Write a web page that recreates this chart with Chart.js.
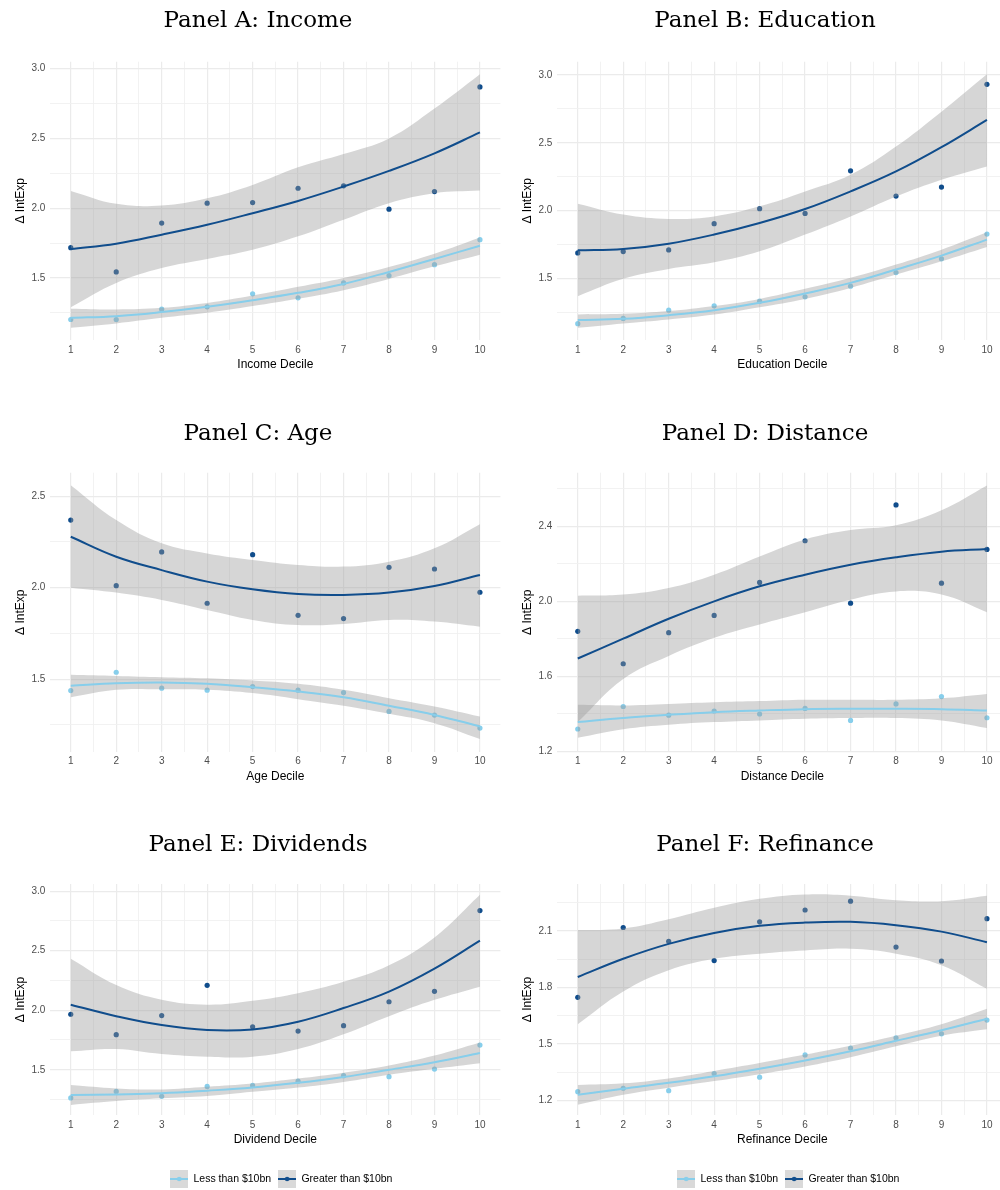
<!DOCTYPE html>
<html>
<head>
<meta charset="utf-8">
<script src="https://cdn.jsdelivr.net/npm/chart.js@4.4.1/dist/chart.umd.min.js"></script>
<style>
  html, body { margin: 0; padding: 0; background: #fff; overflow: hidden; }
  #page { position: relative; width: 1000px; height: 1190px; overflow: hidden; background: #fff; }
  #page canvas { position: absolute; }
</style>
</head>
<body>
<div id="page">
  <canvas id="cA"></canvas><canvas id="cB"></canvas>
  <canvas id="cC"></canvas><canvas id="cD"></canvas>
  <canvas id="cE"></canvas><canvas id="cF"></canvas>
</div>
<script>
// deciles on the x axis
const deciles = [1, 2, 3, 4, 5, 6, 7, 8, 9, 10];

// Panel A: Income  (small = Less than $10bn, large = Greater than $10bn)
const incomeSmall    = [1.202, 1.202, 1.276, 1.293, 1.386, 1.357, 1.464, 1.517, 1.595, 1.774];
const incomeSmallFit = [1.214, 1.226, 1.255, 1.293, 1.340, 1.393, 1.457, 1.543, 1.636, 1.731];
const incomeSmallHi  = [1.279, 1.274, 1.286, 1.321, 1.374, 1.436, 1.500, 1.579, 1.674, 1.790];
const incomeSmallLo  = [1.143, 1.174, 1.214, 1.250, 1.298, 1.350, 1.412, 1.493, 1.583, 1.667];
const incomeLarge    = [1.717, 1.543, 1.893, 2.036, 2.040, 2.143, 2.160, 1.993, 2.119, 2.869];
const incomeLargeFit = [1.707, 1.745, 1.810, 1.881, 1.964, 2.052, 2.155, 2.267, 2.393, 2.543];
const incomeLargeHi  = [2.124, 2.031, 2.019, 2.071, 2.167, 2.293, 2.388, 2.500, 2.714, 2.960];
const incomeLargeLo  = [1.290, 1.464, 1.571, 1.636, 1.702, 1.798, 1.917, 2.036, 2.107, 2.126];

// Panel B: Education
const eduSmall    = [1.167, 1.206, 1.267, 1.299, 1.333, 1.365, 1.444, 1.544, 1.645, 1.828];
const eduSmallFit = [1.194, 1.203, 1.230, 1.267, 1.321, 1.390, 1.468, 1.566, 1.669, 1.787];
const eduSmallHi  = [1.235, 1.240, 1.260, 1.297, 1.350, 1.424, 1.505, 1.603, 1.713, 1.841];
const eduSmallLo  = [1.137, 1.169, 1.199, 1.235, 1.289, 1.350, 1.431, 1.529, 1.627, 1.733];
const eduLarge    = [1.689, 1.699, 1.711, 1.904, 2.015, 1.980, 2.294, 2.108, 2.174, 2.931];
const eduLargeFit = [1.708, 1.718, 1.757, 1.824, 1.909, 2.012, 2.142, 2.289, 2.468, 2.669];
const eduLargeHi  = [2.051, 1.971, 1.939, 1.958, 2.032, 2.142, 2.265, 2.473, 2.730, 3.005];
const eduLargeLo  = [1.370, 1.498, 1.571, 1.620, 1.701, 1.824, 1.958, 2.105, 2.228, 2.326];

// Panel C: Age
const ageSmall    = [1.438, 1.538, 1.451, 1.440, 1.460, 1.440, 1.427, 1.324, 1.304, 1.233];
const ageSmallFit = [1.464, 1.478, 1.482, 1.475, 1.456, 1.433, 1.402, 1.355, 1.305, 1.242];
const ageSmallHi  = [1.524, 1.518, 1.511, 1.505, 1.493, 1.475, 1.442, 1.396, 1.351, 1.296];
const ageSmallLo  = [1.402, 1.442, 1.445, 1.442, 1.424, 1.391, 1.355, 1.311, 1.260, 1.173];
const ageLarge    = [2.369, 2.011, 2.195, 1.915, 2.180, 1.849, 1.831, 2.111, 2.102, 1.975];
const ageLargeFit = [2.278, 2.169, 2.096, 2.033, 1.991, 1.965, 1.960, 1.973, 2.009, 2.069];
const ageLargeHi  = [2.560, 2.369, 2.242, 2.187, 2.151, 2.124, 2.115, 2.142, 2.215, 2.347];
const ageLargeLo  = [2.000, 1.973, 1.933, 1.878, 1.824, 1.796, 1.802, 1.824, 1.815, 1.787];

// Panel D: Distance
const distSmall    = [1.318, 1.438, 1.392, 1.414, 1.398, 1.428, 1.364, 1.452, 1.491, 1.378];
const distSmallFit = [1.355, 1.377, 1.394, 1.408, 1.417, 1.424, 1.426, 1.426, 1.424, 1.417];
const distSmallHi  = [1.447, 1.444, 1.452, 1.461, 1.467, 1.474, 1.474, 1.474, 1.482, 1.505];
const distSmallLo  = [1.271, 1.317, 1.341, 1.355, 1.364, 1.373, 1.377, 1.377, 1.364, 1.324];
const distLarge    = [1.839, 1.666, 1.832, 1.924, 2.100, 2.322, 1.989, 2.513, 2.096, 2.276];
const distLargeFit = [1.694, 1.800, 1.906, 1.999, 2.079, 2.141, 2.194, 2.234, 2.264, 2.278];
const distLargeHi  = [2.029, 2.035, 2.070, 2.141, 2.238, 2.329, 2.379, 2.405, 2.485, 2.617];
const distLargeLo  = [1.355, 1.585, 1.708, 1.805, 1.876, 1.941, 2.008, 2.052, 2.035, 1.941];

// Panel E: Dividends
const divSmall    = [1.263, 1.318, 1.277, 1.360, 1.368, 1.404, 1.450, 1.442, 1.506, 1.707];
const divSmallFit = [1.288, 1.293, 1.302, 1.324, 1.351, 1.390, 1.439, 1.500, 1.563, 1.641];
const divSmallHi  = [1.371, 1.343, 1.335, 1.357, 1.384, 1.426, 1.475, 1.536, 1.619, 1.729];
const divSmallLo  = [1.205, 1.238, 1.260, 1.280, 1.315, 1.351, 1.398, 1.459, 1.508, 1.555];
const divLarge    = [1.966, 1.795, 1.955, 2.209, 1.861, 1.825, 1.870, 2.071, 2.159, 2.837];
const divLargeFit = [2.046, 1.950, 1.875, 1.834, 1.839, 1.903, 2.018, 2.156, 2.349, 2.584];
const divLargeHi  = [2.432, 2.211, 2.087, 2.046, 2.079, 2.143, 2.239, 2.377, 2.611, 2.970];
const divLargeLo  = [1.655, 1.674, 1.632, 1.610, 1.610, 1.674, 1.798, 1.950, 2.087, 2.198];

// Panel F: Refinance
const refiSmall    = [1.247, 1.265, 1.252, 1.343, 1.324, 1.442, 1.479, 1.533, 1.554, 1.627];
const refiSmallFit = [1.231, 1.263, 1.294, 1.329, 1.369, 1.413, 1.462, 1.517, 1.573, 1.634];
const refiSmallHi  = [1.282, 1.291, 1.317, 1.357, 1.399, 1.444, 1.491, 1.544, 1.605, 1.687];
const refiSmallLo  = [1.177, 1.230, 1.268, 1.303, 1.340, 1.381, 1.430, 1.488, 1.544, 1.578];
const refiLarge    = [1.748, 2.119, 2.046, 1.943, 2.149, 2.212, 2.259, 2.015, 1.941, 2.166];
const refiLargeFit = [1.856, 1.953, 2.032, 2.090, 2.128, 2.145, 2.149, 2.131, 2.097, 2.041];
const refiLargeHi  = [2.105, 2.114, 2.163, 2.224, 2.271, 2.294, 2.288, 2.264, 2.259, 2.288];
const refiLargeLo  = [1.605, 1.779, 1.892, 1.953, 1.980, 1.997, 2.006, 1.980, 1.919, 1.793];

// y tick labels per panel
const yTicksA = [1.5, 2.0, 2.5, 3.0];
const yTicksB = [1.5, 2.0, 2.5, 3.0];
const yTicksC = [1.5, 2.0, 2.5];
const yTicksD = [1.2, 1.6, 2.0, 2.4];
const yTicksE = [1.5, 2.0, 2.5, 3.0];
const yTicksF = [1.2, 1.5, 1.8, 2.1];

const seriesNames = ["Less than $10bn", "Greater than $10bn"];

const DARK = "#104d8c";
const LIGHT = "#87ceeb";
const BAND = "rgba(153,153,153,0.4)";
const SANS = "'Liberation Sans', Arial, sans-serif";
const POINT_R = 2.6;

Chart.defaults.font.family = SANS;

// geometry of the three rows (canvas-relative)
const rows = [
  { top: 0,   height: 410, plotTop: 61.7, plotBottom: 340,   titleY: 20,   axisTitleY: 364.5 },
  { top: 410, height: 410, plotTop: 62.7, plotBottom: 341.7, titleY: 22.3, axisTitleY: 366.7 },
  { top: 820, height: 378, plotTop: 64,   plotBottom: 298,   titleY: 23.7, axisTitleY: 322.7, legendY: 362 }
];
const colLeft = [0, 507];
const CANVAS_W = 500 + Math.ceil(POINT_R);  // the library keeps a point-radius margin on the right
const PAD_LEFT = 13;
const PLOT_LEFT = 50.3;
const LEGEND_SHIFT = 6;

const panels = [
  { id: "cA", row: 0, col: 0, title: "Panel A: Income",    xTitle: "Income Decile",    yMin: 1.055, yMax: 3.05,  yTicks: yTicksA,
    small: [incomeSmall, incomeSmallFit, incomeSmallHi, incomeSmallLo], large: [incomeLarge, incomeLargeFit, incomeLargeHi, incomeLargeLo] },
  { id: "cB", row: 0, col: 1, title: "Panel B: Education", xTitle: "Education Decile", yMin: 1.047, yMax: 3.098, yTicks: yTicksB,
    small: [eduSmall, eduSmallFit, eduSmallHi, eduSmallLo], large: [eduLarge, eduLargeFit, eduLargeHi, eduLargeLo] },
  { id: "cC", row: 1, col: 0, title: "Panel C: Age",       xTitle: "Age Decile",       yMin: 1.104, yMax: 2.628, yTicks: yTicksC,
    small: [ageSmall, ageSmallFit, ageSmallHi, ageSmallLo], large: [ageLarge, ageLargeFit, ageLargeHi, ageLargeLo] },
  { id: "cD", row: 1, col: 1, title: "Panel D: Distance",  xTitle: "Distance Decile",  yMin: 1.197, yMax: 2.685, yTicks: yTicksD,
    small: [distSmall, distSmallFit, distSmallHi, distSmallLo], large: [distLarge, distLargeFit, distLargeHi, distLargeLo] },
  { id: "cE", row: 2, col: 0, title: "Panel E: Dividends", xTitle: "Dividend Decile",  yMin: 1.12,  yMax: 3.06,  yTicks: yTicksE,
    small: [divSmall, divSmallFit, divSmallHi, divSmallLo], large: [divLarge, divLargeFit, divLargeHi, divLargeLo] },
  { id: "cF", row: 2, col: 1, title: "Panel F: Refinance", xTitle: "Refinance Decile", yMin: 1.123, yMax: 2.35,  yTicks: yTicksF,
    small: [refiSmall, refiSmallFit, refiSmallHi, refiSmallLo], large: [refiLarge, refiLargeFit, refiLargeHi, refiLargeLo] }
];

const xy = vals => deciles.map((d, i) => ({ x: d, y: vals[i] }));
const near = (a, b) => Math.abs(a - b) < 1e-6;

// major ticks plus minor lines halfway between them
function gridValues(major, min, max) {
  const half = (major[1] - major[0]) / 2;
  let v = major[0];
  while (v - half >= min) v -= half;
  const out = [];
  for (; v <= max + 1e-9; v += half) out.push(Math.round(v * 1000) / 1000);
  return out;
}

function keyImage(color) {
  const c = document.createElement("canvas");
  c.width = 18; c.height = 18;
  const g = c.getContext("2d");
  g.fillStyle = "#d9d9d9";
  g.fillRect(0, 0, 18, 18);
  g.strokeStyle = color; g.lineWidth = 2;
  g.beginPath(); g.moveTo(0, 9); g.lineTo(18, 9); g.stroke();
  g.fillStyle = color;
  g.beginPath(); g.arc(9, 9, 2.3, 0, Math.PI * 2); g.fill();
  return c;
}
const keys = [keyImage(LIGHT), keyImage(DARK)];

// nudge the legend to sit a little right of the plot centre, as in the original
const legendShift = {
  id: "legendShift",
  afterLayout(chart) {
    if (chart.legend && chart.options.plugins.legend.display) {
      chart.legend.left += LEGEND_SHIFT;
      chart.legend.right += LEGEND_SHIFT;
    }
  }
};

function makeDatasets(p) {
  const curve = { pointRadius: 0, pointHoverRadius: 0, pointBorderWidth: 0, tension: 0.4, fill: false };
  const band = { ...curve, borderWidth: 0, borderColor: "transparent", backgroundColor: BAND, order: 2 };
  const pts = { showLine: false, pointRadius: POINT_R, pointHoverRadius: 0, pointBorderWidth: 0, order: 3 };
  return [
    { ...curve, data: xy(p.large[1]), borderColor: DARK, borderWidth: 2, order: 1 },
    { ...curve, data: xy(p.small[1]), borderColor: LIGHT, borderWidth: 2, order: 1 },
    { ...band, data: xy(p.large[2]), fill: "+1" },
    { ...band, data: xy(p.large[3]) },
    { ...band, data: xy(p.small[2]), fill: "+1" },
    { ...band, data: xy(p.small[3]) },
    { ...pts, data: xy(p.large[0]), pointBackgroundColor: DARK, backgroundColor: DARK },
    { ...pts, data: xy(p.small[0]), pointBackgroundColor: LIGHT, backgroundColor: LIGHT }
  ];
}

panels.forEach(p => {
  const r = rows[p.row];
  const canvas = document.getElementById(p.id);
  canvas.width = CANVAS_W; canvas.height = r.height;
  canvas.style.left = colLeft[p.col] + "px";
  canvas.style.top = r.top + "px";

  const hasLegend = r.legendY !== undefined;
  const legendFont = 10.5, legendPad = 7;
  const legendH = legendFont + 2 * legendPad;
  const axisBottom = hasLegend ? r.legendY - legendH / 2 : r.axisTitleY + 7.2;
  const xAxisH = axisBottom - r.plotBottom;
  const xTitlePadBottom = axisBottom - r.axisTitleY - 7.2;
  const padBottom = r.height - axisBottom - (hasLegend ? legendH : 0);
  const titleLine = 23 * 1.2;
  const titlePadTop = r.titleY + 1.5 - titleLine / 2;
  const titlePadBottom = r.plotTop - titlePadTop - titleLine;

  const xGrid = gridValues(deciles, 0.55, 10.45);
  const yGrid = gridValues(p.yTicks, p.yMin, p.yMax);

  new Chart(canvas, {
    type: "line",
    data: { datasets: makeDatasets(p) },
    plugins: [legendShift],
    options: {
      responsive: false,
      animation: false,
      events: [],
      layout: { padding: { left: PAD_LEFT, right: 0, top: 0, bottom: padBottom } },
      plugins: {
        tooltip: { enabled: false },
        title: {
          display: true, text: p.title, color: "#000",
          font: { family: "'DejaVu Serif', serif", size: 23, weight: "normal" },
          padding: { top: titlePadTop, bottom: titlePadBottom }
        },
        legend: {
          display: hasLegend, position: "bottom", fullSize: false,
          labels: {
            usePointStyle: true, pointStyleWidth: 18, padding: legendPad,
            color: "#1a1a1a", font: { size: legendFont },
            generateLabels: () => seriesNames.map((name, i) => ({
              text: name, pointStyle: keys[i], fillStyle: "transparent",
              strokeStyle: "transparent", lineWidth: 0, hidden: false, datasetIndex: i
            }))
          },
          onClick: null
        }
      },
      scales: {
        x: {
          type: "linear", min: 0.55, max: 10.45,
          afterBuildTicks: s => { s.ticks = xGrid.map(v => ({ value: v })); },
          afterFit: s => { s.height = xAxisH; },
          border: { display: false },
          grid: {
            drawTicks: false,
            color: c => Number.isInteger(c.tick.value) ? "#ebebeb" : "#f1f1f1",
            lineWidth: c => Number.isInteger(c.tick.value) ? 1.2 : 0.9
          },
          ticks: {
            autoSkip: false, maxRotation: 0, padding: 4, color: "#4d4d4d", font: { size: 10 },
            callback: v => Number.isInteger(v) ? String(v) : ""
          },
          title: {
            display: true, text: p.xTitle, color: "#000", font: { size: 12 },
            padding: { top: 0, bottom: xTitlePadBottom }
          }
        },
        y: {
          type: "linear", min: p.yMin, max: p.yMax,
          afterBuildTicks: s => { s.ticks = yGrid.map(v => ({ value: v })); },
          afterFit: s => { s.width = PLOT_LEFT - PAD_LEFT; },
          border: { display: false },
          grid: {
            drawTicks: false,
            color: c => p.yTicks.some(t => near(t, c.tick.value)) ? "#ebebeb" : "#f1f1f1",
            lineWidth: c => p.yTicks.some(t => near(t, c.tick.value)) ? 1.2 : 0.9
          },
          ticks: {
            autoSkip: false, padding: 5, color: "#4d4d4d", font: { size: 10 },
            callback: v => p.yTicks.some(t => near(t, v)) ? v.toFixed(1) : ""
          },
          title: {
            display: true, text: "\u0394 IntExp", color: "#000", font: { size: 12 },
            padding: { top: 0, bottom: 0 }
          }
        }
      }
    }
  });
});
</script>
</body>
</html>
